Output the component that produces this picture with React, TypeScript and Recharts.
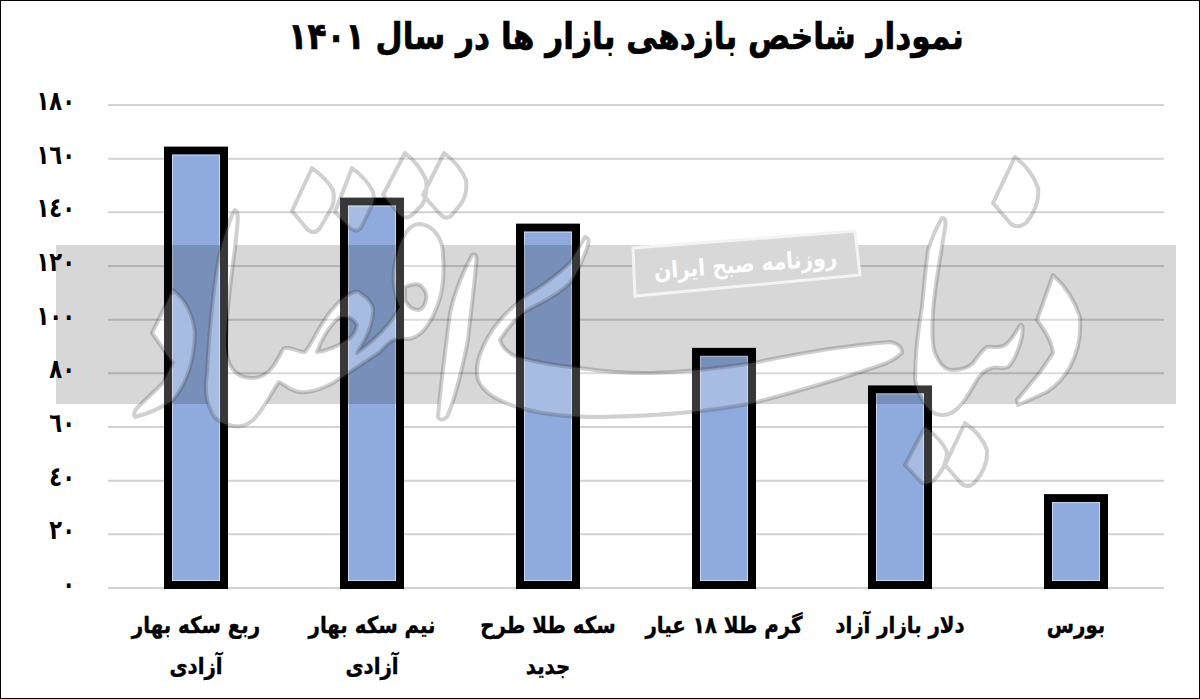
import { BarChart, Bar, XAxis, YAxis, CartesianGrid } from 'recharts'

const categoryLines = [
  ['ربع سکه بهار', 'آزادی'],
  ['نیم سکه بهار', 'آزادی'],
  ['سکه طلا طرح', 'جدید'],
  ['گرم طلا ۱۸ عیار'],
  ['دلار بازار آزاد'],
  ['بورس'],
]
const returns = [163, 144, 134.3, 88, 74, 33.5]
const yTicks = [0, 20, 40, 60, 80, 100, 120, 140, 160, 180]
const yTickLabels = ['٠', '٢٠', '٤٠', '٦٠', '٨٠', '١٠٠', '١٢٠', '١٤٠', '١٦٠', '١٨٠']

const chartData = categoryLines.map((lines, i) => ({ name: lines.join(' '), value: returns[i] }))

const FONT = '"DejaVu Sans", sans-serif'

// Watermark outlines (background decoration, not data)
const watermarkPaths = [
  // dots
  'M312,168 Q328,180 333,190 Q335,200 332,207 L320,228 Q315,235 308,230 L292,211 Z',
  'M352,168 Q368,180 373,192 Q375,200 372,205 L362,226 Q358,234 350,228 L335,212 Z',
  'M405,153 Q420,165 426,180 Q428,195 422,205 L412,215 Q406,220 400,215 L383,195 Z',
  'M444,153 Q460,165 466,180 Q468,195 460,205 L451,216 Q445,220 440,214 L423,195 Z',
  'M1015,157 Q1032,170 1038,188 Q1040,205 1027,222 Q1018,230 1010,223 L993,203 Z',
  'M925,427 Q942,440 947,452 Q947,468 932,482 Q925,486 920,481 L905,465 Z',
  'M965,423 Q982,435 987,450 Q988,468 975,482 Q968,490 960,482 L945,465 Z',
  // left letter
  'M173,290 Q192,305 195,333 Q194,375 173,400 Q155,412 135,417 Q132,412 140,405 L163,383 L173,363 L152,333 Z',
  // long stroke with the loop on its right
  'M235,210 C240,212 237,225 236,240 C233,265 226,310 226,345 C226,365 235,378 252,378 C268,378 275,365 283,349 C290,345 297,352 305,352 C315,340 322,315 345,297 C352,292 358,290 360,293 C368,298 375,305 373,313 C372,330 362,345 357,353 C375,340 390,325 400,307 C392,290 392,270 397,255 C402,235 410,224 420,224 C435,226 443,240 443,255 C445,280 442,295 437,307 C430,325 420,340 405,339 C395,338 390,340 380,352 C365,362 350,372 333,383 C320,390 310,393 300,392 C292,392 285,385 279,382 C270,395 262,412 253,420 C245,427 238,427 233,426 C222,424 215,420 212,413 C205,400 205,385 207,373 C209,330 213,295 217,267 C221,245 228,225 232,215 Z',
  'M405,287 Q415,283 420,285 Q428,292 426,300 Q424,309 418,310 Q410,310 405,300 Z',
  'M317,352 Q326,328 340,317 Q352,315 357,325 Q355,335 347,340 Q332,350 317,352 Z',
  // narrow stroke
  'M472,255 Q478,252 476,265 C474,290 470,320 468,340 C462,370 455,400 447,417 Q441,422 438,417 C440,390 446,345 450,313 C455,290 465,268 472,255 Z',
  // swoosh
  'M585,237 Q590,238 588,245 C582,265 575,275 570,283 C555,298 535,305 523,313 C512,322 505,332 500,340 C503,350 510,354 517,357 C540,363 560,366 580,368 C605,372 630,373 650,373 C690,372 720,368 753,363 C800,353 850,345 890,342 Q902,344 902,353 Q897,358 887,363 C845,378 795,392 753,403 C710,412 650,416 600,417 C560,417 535,413 517,407 C495,400 483,392 478,380 C475,368 478,358 483,347 C492,325 510,308 527,295 C545,285 560,272 570,263 Z',
  // right letters
  'M942,218 Q947,218 945,228 C940,260 934,290 933,313 C932,330 932,345 935,353 C940,365 945,370 952,370 C962,370 968,368 973,363 C979,355 982,350 987,347 C993,346 999,349 1005,345 C1012,340 1016,332 1020,325 Q1024,323 1022,337 C1018,352 1014,362 1008,367 C1002,370 997,366 992,368 C985,370 982,373 977,380 C970,392 965,402 958,408 C952,414 948,415 943,415 C936,415 934,413 930,410 C922,402 917,392 915,380 C915,355 918,330 922,307 C924,285 926,265 928,250 C932,238 937,226 942,218 Z',
  'M1053,275 Q1072,292 1080,317 Q1082,345 1070,367 Q1062,382 1047,392 Q1030,400 1018,405 L1017,400 L1040,372 L1053,353 Q1052,340 1037,320 Z',
]
const stampCorners = '633,248 855,231 860,275 635,296'

function OutlinedBar(props: any) {
  const { x, y, width, height } = props
  const bottom = y + height - 3
  return (
    <g>
      <rect x={x} y={y} width={width} height={bottom - y} fill="#8faadc" stroke="#000" strokeWidth={8} />
      <rect x={x + 4.5} y={y + 4.5} width={width - 9} height={bottom - y - 9} fill="none" stroke="#c9d6ef" strokeWidth={1} />
    </g>
  )
}

function CategoryTick(props: any) {
  const { x, payload } = props
  const lines = categoryLines.find((l) => l.join(' ') === payload.value) || []
  return (
    <g>
      {lines.map((line, i) => (
        <text
          key={i}
          transform={`translate(${x} ${633 + i * 41}) scale(0.86 1)`}
          textAnchor="middle"
          direction="rtl"
          fontFamily={FONT}
          fontWeight={700}
          fontSize={23}
          stroke="#000"
          strokeWidth={0.4}
          fill="#000"
        >
          {line}
        </text>
      ))}
    </g>
  )
}

function ValueTick(props: any) {
  const { y, payload } = props
  return (
    <text
      transform={`translate(75 ${y + 5}) scale(0.78 1)`}
      textAnchor="end"
      fontFamily={FONT}
      fontWeight={700}
      fontSize={27}
      fill="#000"
    >
      {yTickLabels[yTicks.indexOf(payload.value)]}
    </text>
  )
}

export default function App() {
  return (
    <div style={{ position: 'absolute', left: 0, top: 0, width: 1200, height: 699, background: '#fff', overflow: 'hidden' }}>
      <BarChart
        width={1200}
        height={699}
        data={chartData}
        margin={{ top: 105, right: 36, left: 0, bottom: 0 }}
        barCategoryGap="20%"
      >
        <CartesianGrid horizontal vertical={false} stroke="#d2d2d2" strokeWidth={2} />
        <XAxis
          dataKey="name"
          interval={0}
          height={111}
          axisLine={false}
          tickLine={false}
          tick={<CategoryTick />}
        />
        <YAxis
          type="number"
          width={108}
          domain={[0, 180]}
          ticks={yTicks}
          axisLine={false}
          tickLine={false}
          tick={<ValueTick />}
        />
        <Bar dataKey="value" barSize={56} isAnimationActive={false} shape={<OutlinedBar />} />
      </BarChart>

      <svg width={1200} height={699} style={{ position: 'absolute', left: 0, top: 0 }}>
        <defs>
          <mask id="band-holes" maskUnits="userSpaceOnUse" x={0} y={0} width={1200} height={699}>
            <rect x={0} y={0} width={1200} height={699} fill="#fff" />
            <path d={watermarkPaths.join(' ')} fill="#000" fillRule="evenodd" />
          </mask>
        </defs>
        <rect x={56} y={245} width={1120} height={159} fill="rgba(0,0,0,0.155)" mask="url(#band-holes)" />
        <path d={watermarkPaths.join(' ')} fill="rgba(255,255,255,0.22)" fillRule="evenodd" stroke="rgba(60,60,60,0.24)" strokeWidth={4} strokeLinejoin="round" />
        <polygon points={stampCorners} fill="#d8d8d8" stroke="#f4f4f4" strokeWidth={3} />
        <text transform="translate(746 272) rotate(-4.4) scale(0.88 1)" textAnchor="middle" direction="rtl" fontFamily={FONT} fontWeight={700} fontSize={23} fill="#fff">
          روزنامه صبح ایران
        </text>
        <text transform="translate(626 49) scale(0.845 1)" textAnchor="middle" direction="rtl" fontFamily={FONT} fontWeight={700} fontSize={37} stroke="#000" strokeWidth={0.7} fill="#000">
          نمودار شاخص بازدهی بازار ها در سال ۱۴۰۱
        </text>
        <rect x={0.5} y={0.5} width={1199} height={698} fill="none" stroke="#000" strokeWidth={1} />
      </svg>
    </div>
  )
}
